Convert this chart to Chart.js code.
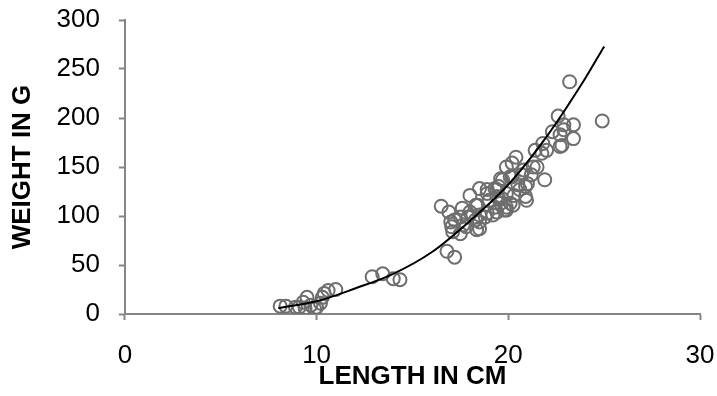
<!DOCTYPE html>
<html>
<head>
<meta charset="utf-8">
<script src="https://cdn.jsdelivr.net/npm/chart.js@4.4.1/dist/chart.umd.min.js"></script>
<style>
  html, body { margin: 0; padding: 0; background: #ffffff; }
  #wrap { width: 717px; height: 396px; }
</style>
</head>
<body>
<div id="wrap"><canvas id="c" width="717" height="396"></canvas></div>
<script>
// Observed fish: length (cm) and weight (g)
const lengths = [
  8.1, 8.4, 8.9, 9.1, 9.4, 9.3, 9.5, 9.7, 10.0, 10.3, 10.4, 10.6, 10.2, 9.9, 11.0,
  12.9, 13.45, 14.0, 14.35,
  16.5, 16.8, 17.2, 16.9, 17.0, 17.05, 17.1, 17.5, 17.65, 17.9, 17.6, 18.0, 18.3, 18.5, 18.5,
  18.9, 19.0, 19.3, 19.4, 19.65, 19.8, 20.3, 17.2, 17.8, 18.35, 17.5, 18.0, 18.5, 18.3, 18.4,
  18.5, 18.9, 19.6, 19.4, 19.9, 20.1, 19.6, 19.5, 19.9, 19.4, 20.1, 20.5, 20.9, 20.9, 20.2,
  20.4, 20.8, 21.2, 21.0, 20.6, 21.3, 21.4, 21.5, 21.9, 21.8, 22.0, 21.75, 22.3, 22.7, 22.9,
  22.9, 22.6, 23.2, 23.4, 23.4, 22.8, 22.7, 24.9, 20.95, 20.25, 19.7, 19.3, 18.9, 19.5, 19.9,
  20.7, 20.2, 18.8, 19.2, 19.9
];
const weights = [
  8, 8, 7, 7, 6, 12, 17, 9, 7, 17, 21, 24, 11, 5, 25,
  38, 41, 36, 35,
  110, 64, 58, 104, 94, 89, 84, 82, 91, 99, 108, 121, 111, 94, 87,
  103, 116, 109, 127, 118, 106, 121, 96, 89, 86, 99, 104, 101, 96, 111,
  128, 127, 113, 104, 109, 113, 138, 130, 123, 120, 140, 132, 130, 120, 154,
  160, 147, 142, 133, 127, 150, 167, 150, 137, 174, 167, 164, 186, 171, 193,
  188, 202, 237, 193, 179, 172, 183, 197, 116, 111, 137, 128, 123, 118, 150,
  142, 140, 99, 101, 106
];
// Trend curve
const trendLengths = [8.0, 10, 12, 14, 16, 18, 20, 22, 24, 25];
const trendWeights = [6, 13, 26, 41, 63, 95, 132, 181, 240, 273];

const xTicks = [0, 10, 20, 30];
const yTicks = [0, 50, 100, 150, 200, 250, 300];
const xTitle = 'LENGTH IN CM';
const yTitle = 'WEIGHT IN G';

const points = lengths.map((x, i) => ({ x: x, y: weights[i] }));
const trend = trendLengths.map((x, i) => ({ x: x, y: trendWeights[i] }));

const axisGray = '#868686';
const tickFont = { family: "'Liberation Sans', Arial, sans-serif", size: 26, lineHeight: 1 };
const titleFont = { family: "'Liberation Sans', Arial, sans-serif", size: 26, weight: 'bold', lineHeight: 1 };

function noEdgePadding(axis) {
  axis.paddingTop = 0;
  axis.paddingBottom = 0;
  axis.paddingLeft = 0;
  axis.paddingRight = 0;
}

new Chart(document.getElementById('c'), {
  type: 'scatter',
  data: {
    datasets: [
      {
        label: 'Trend',
        data: trend,
        showLine: true,
        borderColor: '#000000',
        borderWidth: 2,
        pointRadius: 0,
        cubicInterpolationMode: 'monotone',
        fill: false,
        order: 0
      },
      {
        label: 'Fish',
        data: points,
        pointRadius: 6.5,
        pointBorderWidth: 2,
        pointBackgroundColor: 'rgba(0,0,0,0)',
        pointBorderColor: '#6e6e6e',
        showLine: false,
        order: 1
      }
    ]
  },
  options: {
    responsive: false,
    animation: false,
    devicePixelRatio: 1,
    layout: { autoPadding: false, padding: { left: 9.5, right: 17, top: 20, bottom: 6 } },
    plugins: { legend: { display: false }, tooltip: { enabled: false } },
    scales: {
      x: {
        type: 'linear',
        min: 0, max: 30,
        afterBuildTicks: (axis) => { axis.ticks = xTicks.map(v => ({ value: v })); },
        afterFit: noEdgePadding,
        ticks: { color: '#000000', font: tickFont, padding: 23, maxRotation: 0 },
        grid: { display: true, drawOnChartArea: false, drawTicks: true, tickLength: 6, tickWidth: 2, color: axisGray },
        border: { display: true, color: axisGray, width: 2 },
        title: { display: true, text: xTitle, color: '#000000', font: titleFont, padding: { top: -28, bottom: 0 } }
      },
      y: {
        type: 'linear',
        min: 0, max: 300,
        afterBuildTicks: (axis) => { axis.ticks = yTicks.map(v => ({ value: v })); },
        afterFit: noEdgePadding,
        ticks: { color: '#000000', font: tickFont, padding: 19 },
        grid: { display: true, drawOnChartArea: false, drawTicks: true, tickLength: 6, tickWidth: 2, color: axisGray },
        border: { display: true, color: axisGray, width: 2 },
        title: { display: true, text: yTitle, color: '#000000', font: titleFont, padding: { top: 0, bottom: 2 } }
      }
    }
  }
});
</script>
</body>
</html>
